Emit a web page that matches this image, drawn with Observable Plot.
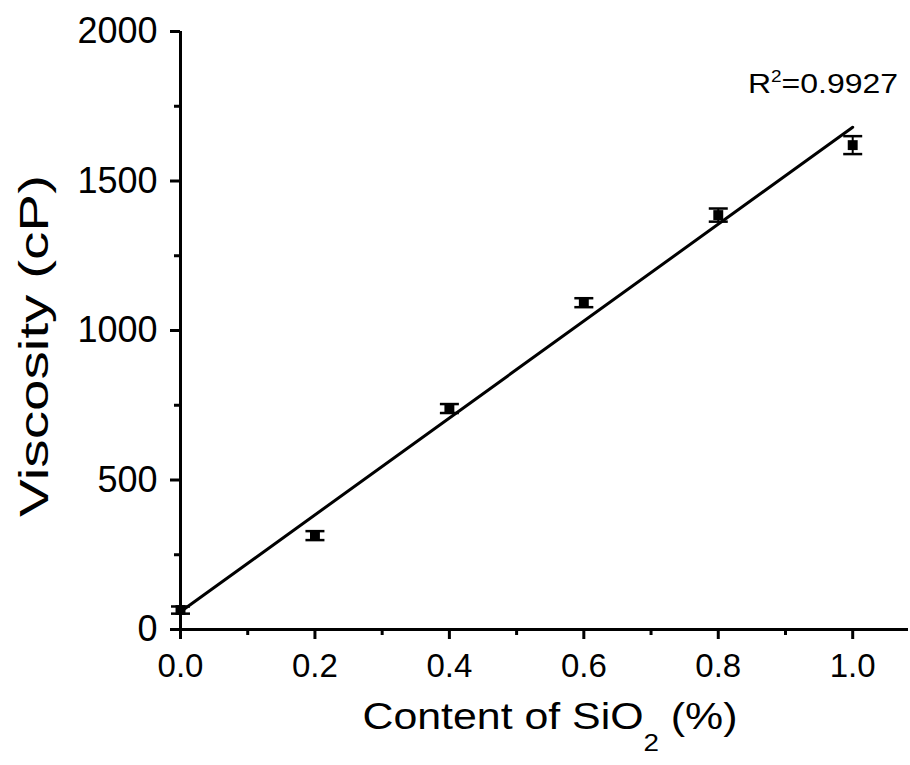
<!DOCTYPE html>
<html>
<head>
<meta charset="utf-8">
<script src="https://cdn.jsdelivr.net/npm/d3@7"></script>
<script src="https://cdn.jsdelivr.net/npm/@observablehq/plot@0.6"></script>
<style>
  html, body { margin: 0; padding: 0; background: #fff; }
  svg { font-family: "Liberation Sans", Arial, sans-serif; }
</style>
</head>
<body>
<div id="chart"></div>
<script>
// ---- data ----
const content = [0, 0.2, 0.4, 0.6, 0.8, 1.0];
const viscosity = [65, 314, 739, 1093, 1386, 1620];
const errorBar = [12, 15, 15, 15, 22, 30];
const xTicks = [0, 0.2, 0.4, 0.6, 0.8, 1.0];
const xMinorTicks = [0.1, 0.3, 0.5, 0.7, 0.9];
const yTicks = [0, 500, 1000, 1500, 2000];
const yMinorTicks = [250, 750, 1250, 1750];
const r2Value = "0.9927";

const data = content.map((c, i) => ({x: c, y: viscosity[i], e: errorBar[i]}));

const capSymbol = {
  draw(context, size) {
    const w = 9.5;
    context.moveTo(-w, 0);
    context.lineTo(w, 0);
  }
};

const plot = Plot.plot({
  width: 910,
  height: 765,
  marginLeft: 180,
  marginRight: 2,
  marginTop: 31,
  marginBottom: 136,
  style: {fontFamily: "Liberation Sans, Arial, sans-serif", background: "white", color: "black"},
  x: {domain: [0, 1.083]},
  y: {domain: [0, 2000]},
  marks: [
    Plot.axisX({ticks: xTicks, tickSize: 10, strokeWidth: 3, tickPadding: 14, fontSize: 33, tickFormat: d3.format(".1f"), label: null}),
    Plot.axisX({ticks: xMinorTicks, tickSize: 6, strokeWidth: 3, tickFormat: () => "", label: null}),
    Plot.axisY({ticks: yTicks, tickSize: 10, strokeWidth: 3, tickPadding: 13, fontSize: 36, tickFormat: d3.format("d"), label: null}),
    Plot.axisY({ticks: yMinorTicks, tickSize: 6, strokeWidth: 3, tickFormat: () => "", label: null}),
    Plot.ruleY([0], {stroke: "black", strokeWidth: 3}),
    Plot.ruleX([0], {stroke: "black", strokeWidth: 3}),
    Plot.linearRegressionY(data, {x: "x", y: "y", ci: 0, stroke: "black", strokeWidth: 3}),
    Plot.ruleX(data, {x: "x", y1: d => d.y - d.e, y2: d => d.y + d.e, stroke: "black", strokeWidth: 2}),
    Plot.dot(data, {x: "x", y: d => d.y - d.e, symbol: capSymbol, stroke: "black", strokeWidth: 2.5, r: 5}),
    Plot.dot(data, {x: "x", y: d => d.y + d.e, symbol: capSymbol, stroke: "black", strokeWidth: 2.5, r: 5}),
    Plot.dot(data, {x: "x", y: "y", symbol: "square", fill: "black", r: 5.6})
  ]
});

const svg = d3.select(plot);

// R² annotation
const r2 = svg.append("text")
  .attr("x", 748).attr("y", 93)
  .attr("text-anchor", "start")
  .attr("font-size", 27)
  .attr("textLength", 150)
  .attr("lengthAdjust", "spacingAndGlyphs")
  .attr("fill", "black");
r2.append("tspan").text("R");
r2.append("tspan").attr("font-size", 16).attr("dy", -11).text("2");
r2.append("tspan").attr("dy", 11).text("=" + r2Value);

// x axis title with subscript
const xt = svg.append("text")
  .attr("x", 550).attr("y", 729)
  .attr("text-anchor", "middle")
  .attr("font-size", 37)
  .attr("textLength", 375)
  .attr("lengthAdjust", "spacingAndGlyphs")
  .attr("fill", "black");
xt.append("tspan").text("Content of SiO");
xt.append("tspan").attr("font-size", 24).attr("dy", 22).text("2");
xt.append("tspan").attr("dy", -22).text(" (%)");

// y axis title
svg.append("text")
  .attr("transform", "translate(48,346) rotate(-90)")
  .attr("text-anchor", "middle")
  .attr("font-size", 40)
  .attr("textLength", 342)
  .attr("lengthAdjust", "spacingAndGlyphs")
  .attr("fill", "black")
  .text("Viscosity (cP)");

document.getElementById("chart").appendChild(plot);
</script>
</body>
</html>
